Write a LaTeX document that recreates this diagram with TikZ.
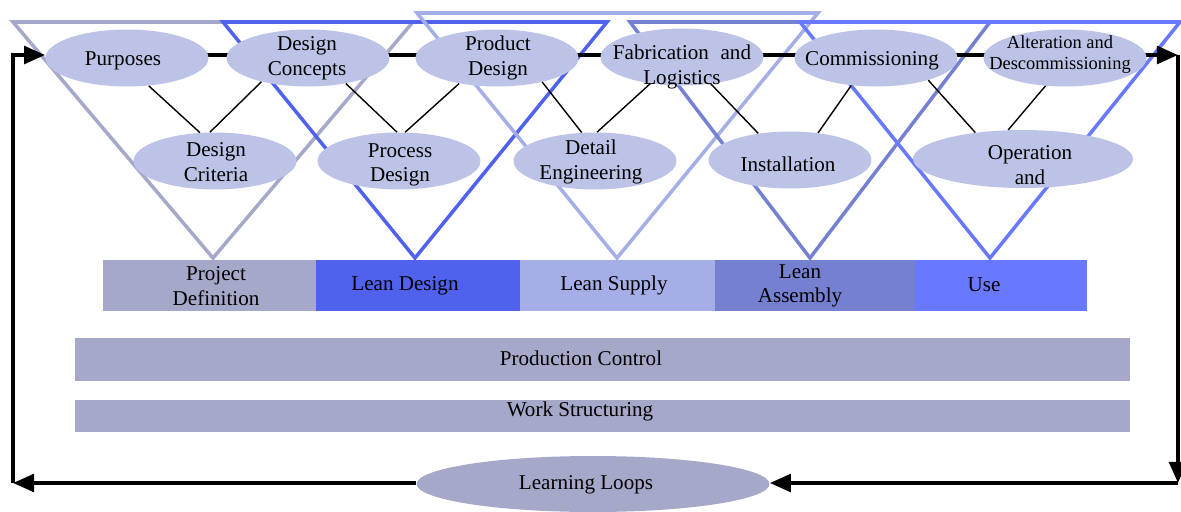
\documentclass[tikz,border=0pt]{standalone}
\usepackage{fontspec}
\setmainfont{Liberation Serif}
\usetikzlibrary{shapes.geometric,arrows.meta}
\definecolor{pdgrey}{HTML}{A6A8C9}
\definecolor{ldblue}{HTML}{5061EE}
\definecolor{lslight}{HTML}{A6AEE8}
\definecolor{lamid}{HTML}{7581D0}
\definecolor{useblue}{HTML}{6878FF}
\definecolor{bubble}{HTML}{BCC3E6}
\pgfdeclarelayer{back}
\pgfsetlayers{back,main}
\begin{document}
\begin{tikzpicture}[x=0.02cm,y=-0.02cm,
  txt/.style={align=center, inner sep=0pt, font=\fontsize{12}{14}\selectfont},
  smalltxt/.style={align=center, inner sep=0pt, font=\fontsize{10.5}{12}\selectfont},
  bub/.style={ellipse, fill=bubble, inner sep=0pt, minimum width=3.26cm, minimum height=1.14cm},
  phase/.style={rectangle, inner sep=0pt, minimum height=1.02cm},
  band/.style={rectangle, inner sep=0pt, fill=pdgrey, minimum width=21.1cm},
  tri/.style={line width=2pt, line join=miter},
  flow/.style={line width=2.2pt, -{Triangle[length=12pt,width=10pt]}},
  link/.style={line width=0.8pt}]
\useasboundingbox (0,0) rectangle (1181,511);

% activity bubbles, upper row
\node[bub] (purp) at (127,58) {};
\node[bub] (conc) at (308,58) {};
\node[bub] (prod) at (497,58) {};
\node[bub] (fab)  at (682,57) {};
\node[bub] (comm) at (876,58) {};
\node[bub] (alt)  at (1065,58) {};
% activity bubbles, lower row
\node[bub] (crit) at (215,161) {};
\node[bub] (proc) at (399,161) {};
\node[bub] (det)  at (595,161) {};
\node[bub] (inst) at (790,160) {};
\node[bub, minimum width=4.4cm, minimum height=1.16cm] (oper) at (1023,159) {};

% bubble texts
\node[txt] (purpt) at (123,61) {Purposes};
\node[txt] (conct) at (307,58) {Design\\Concepts};
\node[txt] (prodt) at (498,58) {Product\\Design};
\node[txt] (fabt)  at (682,67) {Fabrication\hspace{0.55em}and\\Logistics};
\node[txt] (commt) at (872,61) {Commissioning};
\node[smalltxt] (altt) at (1060,55) {Alteration and\\Descommissioning};
\node[txt] (critt) at (216,162) {Design\\Criteria};
\node[txt] (proct) at (400,165) {Process\\Design};
\node[txt] (dett)  at (591,162) {Detail\\Engineering};
\node[txt] (instt) at (788,164) {Installation};
\node[txt] (opert) at (1030,165) {Operation\\and};

% zigzag links between the two rows
\draw[link] (purp.-52) -- (crit.118);
\draw[link] (crit.100) -- (conc.207);
\draw[link] (conc.-34) -- (proc.94);
\draw[link] (proc.78) -- (prod.214);
\draw[link] (prod.-28) -- (det.115);
\draw[link] (det.86) -- (fab.220);
\draw[link] (fab.-43) -- (inst.140);
\draw[link] (inst.44) -- (comm.228);
\draw[link] (comm.-23) -- (oper.151);
\draw[link] (oper.117) -- (alt.235);

% phase bars
\node[phase, fill=pdgrey,  minimum width=4.26cm] (pd) at (209.5,285.5) {};
\node[phase, fill=ldblue,  minimum width=4.08cm] (ld) at (418,285.5) {};
\node[phase, fill=lslight, minimum width=3.9cm]  (ls) at (617.5,285.5) {};
\node[phase, fill=lamid,   minimum width=4.0cm]  (la) at (815,285.5) {};
\node[phase, fill=useblue, minimum width=3.44cm] (us) at (1001,285.5) {};
\node[txt] (pdt) at (216,286) {Project\\Definition};
\node[txt] (ldt) at (405,286) {Lean Design};
\node[txt] (lst) at (614,285) {Lean Supply};
\node[txt] (lat) at (800,286) {Lean\\Assembly};
\node[txt] (ust) at (984,285) {Use};

% supporting bands
\node[band, minimum height=0.86cm] (pc) at (602.5,359.5) {};
\node[txt] (pct) at (581,358) {Production Control};
\node[band, minimum height=0.64cm] (ws) at (602.5,416) {};
\node[txt] (wst) at (580,411) {Work Structuring};

% learning loop
\node[ellipse, fill=pdgrey, inner sep=0pt, minimum width=7.06cm, minimum height=1.12cm] (ll) at (593,484) {};
\node[txt] (llt) at (586,485) {Learning Loops};

\coordinate (tl) at (13,55);
\coordinate (tr) at (1178,55);
\coordinate (br) at (1178,483);
\coordinate (bl) at (13,483);

\draw[flow] (ll.west |- bl) -- (bl);
\draw[flow] (bl) -- (tl) -- (purp.west |- tl);
\draw[flow] (tr) -- (br);
\draw[flow] (br) -- (ll.east |- br);

\begin{pgfonlayer}{back}
  % inverted triangles of the phases
  \draw[tri, pdgrey]  (13,22) -- (413,22) -- (213,258) -- cycle;
  \draw[tri, ldblue]  (223,22) -- (607,22) -- (415,258) -- cycle;
  \draw[tri, lslight] (417,13) -- (818,13) -- (617,258) -- cycle;
  \draw[tri, lamid]   (630,22) -- (990,22) -- (810,258) -- cycle;
  \draw[tri, useblue] (800,22) -- (1180,22) -- (990,258) -- cycle;
  % main flow behind the bubbles
  \draw[flow] (purp.center |- tl) -- (tr);
\end{pgfonlayer}
\end{tikzpicture}
\end{document}
